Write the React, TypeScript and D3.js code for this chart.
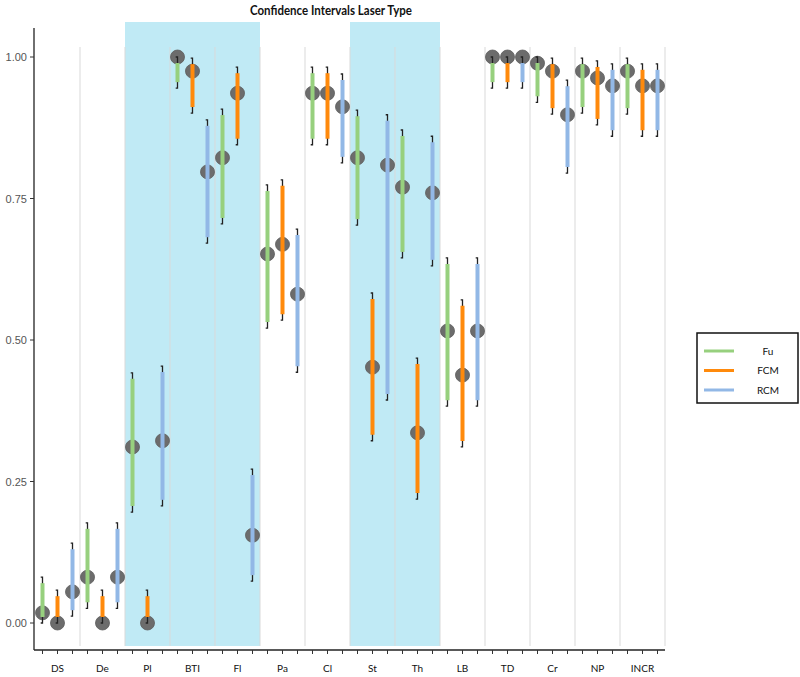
import React from "react";
import * as d3 from "d3";

const categories = ["DS", "De", "Pl", "BTI", "Fl", "Pa", "Cl", "St", "Th", "LB", "TD", "Cr", "NP", "INCR"];
const series = ["Fu", "FCM", "RCM"];
const seriesColors = ["#97d07e", "#ff8a0c", "#92b8e6"];

const fuPoint = [0.018, 0.081, 0.311, 1.0, 0.822, 0.652, 0.936, 0.822, 0.77, 0.516, 1.0, 0.989, 0.975, 0.975];
const fuLow = [0.0, 0.026, 0.196, 0.945, 0.705, 0.521, 0.845, 0.703, 0.645, 0.383, 0.945, 0.92, 0.901, 0.899];
const fuHigh = [0.081, 0.177, 0.442, 1.0, 0.908, 0.774, 0.982, 0.906, 0.871, 0.645, 1.0, 1.0, 0.998, 0.998];

const fcmPoint = [0.0, 0.0, 0.0, 0.975, 0.936, 0.669, 0.936, 0.452, 0.336, 0.438, 1.0, 0.975, 0.963, 0.949];
const fcmLow = [0.0, 0.0, 0.0, 0.901, 0.845, 0.535, 0.845, 0.322, 0.219, 0.311, 0.945, 0.899, 0.88, 0.86];
const fcmHigh = [0.058, 0.058, 0.058, 0.998, 0.982, 0.783, 0.982, 0.583, 0.468, 0.571, 1.0, 0.998, 0.993, 0.988];

const rcmPoint = [0.055, 0.081, 0.322, 0.797, 0.155, 0.581, 0.912, 0.809, 0.76, 0.516, 1.0, 0.898, 0.949, 0.949];
const rcmLow = [0.012, 0.026, 0.207, 0.671, 0.074, 0.443, 0.813, 0.394, 0.631, 0.383, 0.945, 0.795, 0.86, 0.86];
const rcmHigh = [0.141, 0.177, 0.454, 0.889, 0.272, 0.696, 0.97, 0.898, 0.86, 0.645, 1.0, 0.959, 0.988, 0.988];

const yTicks = [0, 0.25, 0.5, 0.75, 1.0];
const shadedGroups = [["Pl", "BTI", "Fl"], ["St", "Th"]];
const title = "Confidence Intervals Laser Type";

const seriesData = [
  { name: "Fu", point: fuPoint, low: fuLow, high: fuHigh },
  { name: "FCM", point: fcmPoint, low: fcmLow, high: fcmHigh },
  { name: "RCM", point: rcmPoint, low: rcmLow, high: rcmHigh },
];

export default function App() {
  const W = 800, H = 677;
  const x = d3.scaleBand<string>().domain(categories).range([35, 665]).padding(0);
  const off = d3.scalePoint<string>().domain(series).range([-15, 15]);
  const y = d3.scaleLinear().domain([0, 1]).range([623, 57]);
  const color = d3.scaleOrdinal<string, string>().domain(series).range(seriesColors);
  const fmt = d3.format(".2f");
  const bw = x.bandwidth();
  const axisY = 650;
  const inset = 6;

  const xs = (cat: string, s: string) => (x(cat) as number) + bw / 2 + (off(s) as number);

  return (
    <svg width={W} height={H} style={{ position: "absolute", left: 0, top: 0, background: "#fff" }}>
      {shadedGroups.map((g, i) => {
        const x0 = x(g[0]) as number;
        const x1 = (x(g[g.length - 1]) as number) + bw;
        return <rect key={i} x={x0} y={22} width={x1 - x0} height={646 - 22} fill="#c0eaf5" />;
      })}
      {categories.map((c) => (
        <line key={c} x1={(x(c) as number) + bw} x2={(x(c) as number) + bw} y1={47} y2={646} stroke="#d9d9d9" strokeWidth={1} />
      ))}
      <text x={331} y={15} textAnchor="middle" fontFamily="'Liberation Sans Narrow', Lato, sans-serif" fontWeight="bold" fontSize={14} textLength={162} lengthAdjust="spacingAndGlyphs" fill="#111">
        {title}
      </text>
      <line x1={34} x2={34} y1={28} y2={axisY} stroke="#222" strokeWidth={1.3} />
      <line x1={34} x2={665} y1={axisY} y2={axisY} stroke="#222" strokeWidth={1.3} />
      {yTicks.map((t) => (
        <g key={t}>
          <line x1={30} x2={34} y1={y(t)} y2={y(t)} stroke="#333" strokeWidth={1} />
          <text x={27} y={y(t) + 4} textAnchor="end" fontFamily="'Liberation Sans', Arial, sans-serif" fontSize={11} fill="#555">
            {fmt(t)}
          </text>
        </g>
      ))}
      {categories.map((c) => (
        <g key={c}>
          {series.map((s) => (
            <line key={s} x1={xs(c, s)} x2={xs(c, s)} y1={axisY} y2={axisY + 4} stroke="#333" strokeWidth={1} />
          ))}
          <text x={(x(c) as number) + bw / 2} y={672} textAnchor="middle" fontFamily="'Liberation Sans Narrow', Lato, sans-serif" fontSize={10} fill="#111">
            {c}
          </text>
        </g>
      ))}
      {seriesData.map((sd) =>
        categories.map((c, i) => (
          <circle key={sd.name + c} cx={xs(c, sd.name)} cy={y(sd.point[i])} r={7} fill="#6c6c6c" stroke="#5c5c5c" strokeWidth={0.8} />
        ))
      )}
      {seriesData.map((sd) =>
        categories.map((c, i) => {
          const cx = xs(c, sd.name);
          const yt = y(sd.high[i]);
          const yb = y(sd.low[i]);
          return (
            <path key={"w" + sd.name + c} d={`M${cx - 1.8},${yt} L${cx},${yt} L${cx},${yb} L${cx - 1.8},${yb}`} fill="none" stroke="#222" strokeWidth={1.3} />
          );
        })
      )}
      {seriesData.map((sd) =>
        categories.map((c, i) => {
          const cx = xs(c, sd.name);
          const yt = y(sd.high[i]) + inset;
          const yb = y(sd.low[i]) - inset;
          if (yb <= yt) return null;
          return <line key={"b" + sd.name + c} x1={cx} x2={cx} y1={yt} y2={yb} stroke={color(sd.name)} strokeWidth={4} />;
        })
      )}
      <rect x={697} y={333} width={101} height={70} fill="#fff" stroke="#111" strokeWidth={1.5} />
      {series.map((s, i) => (
        <g key={s}>
          <line x1={704} x2={734} y1={351 + i * 19.5} y2={351 + i * 19.5} stroke={color(s)} strokeWidth={3} />
          <text x={768} y={351 + i * 19.5 + 3.5} textAnchor="middle" fontFamily="'Liberation Sans Narrow', Lato, sans-serif" fontSize={10} fill="#111">
            {s}
          </text>
        </g>
      ))}
    </svg>
  );
}
